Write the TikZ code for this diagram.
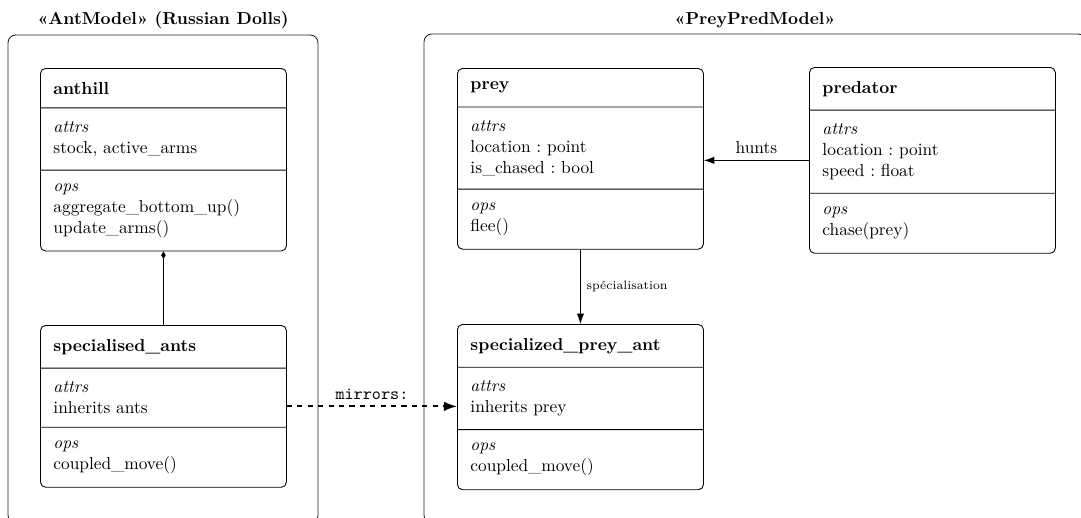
\documentclass[tikz,border=0pt]{standalone}
\usetikzlibrary{shapes.multipart,arrows.meta}
\tikzset{
  container/.style={draw=black!85, rounded corners=4.5pt, line width=0.5pt},
  ctitle/.style={font=\bfseries, anchor=base, inner sep=0pt},
  umlclass/.style={rectangle split, rectangle split parts=3, draw, rounded corners=3pt,
    line width=0.5pt, text width=126.8pt, inner xsep=7.5pt, inner ysep=7.6pt,
    anchor=north west, align=left},
  assoc/.style={-{Latex[length=6pt,width=4.2pt]}, line width=0.55pt},
  compose/.style={-{Diamond[length=4.4pt,width=2.6pt]}, line width=0.55pt},
  mirror/.style={-{Latex[length=7.5pt,width=5.5pt]}, dashed, line width=1.05pt},
}
\begin{document}
\frenchspacing
\begin{tikzpicture}[x=0.5764pt,y=-0.5764pt]
\useasboundingbox (0,0) rectangle (1081,517);

% packages
\draw[container] (8,35) rectangle (318,523);
\draw[container] (424,34) rectangle (1086,523);
\node[ctitle] (anttitle) at (163,24) {«AntModel» (Russian Dolls)};
\node[ctitle] (preytitle) at (755,24) {«PreyPredModel»};

% AntModel classes
\node[umlclass] (anthill) at (40,68) {\textbf{anthill}
  \nodepart{two}\textit{attrs}\\ stock, active\_arms
  \nodepart{three}\textit{ops}\\ aggregate\_bottom\_up()\\ update\_arms()};
\node[umlclass] (spants) at (40,325) {\textbf{specialised\_ants}
  \nodepart{two}\textit{attrs}\\ inherits ants
  \nodepart{three}\textit{ops}\\ coupled\_move()};

% PreyPredModel classes
\node[umlclass] (prey) at (457,68) {\textbf{prey}
  \nodepart{two}\textit{attrs}\\ location : point\\ is\_chased : bool
  \nodepart{three}\textit{ops}\\ flee()};
\node[umlclass] (predator) at (809,67) {\textbf{predator}
  \nodepart{two}\textit{attrs}\\ location : point\\ speed : float
  \nodepart{three}\textit{ops}\\ chase(prey)};
\node[umlclass] (spa) at (457,324) {\textbf{specialized\_prey\_ant}
  \nodepart{two}\textit{attrs}\\ inherits prey
  \nodepart{three}\textit{ops}\\ coupled\_move()};

% relations
\draw[compose] (spants.north) -- (anthill.south);
\draw[assoc] (predator.west) -- (predator.west -| prey.east)
  node[midway, above] (huntslbl) {hunts};
\draw[assoc] (prey.south) -- (spa.north)
  node[midway, right, font=\scriptsize] (speclbl) {spécialisation};
\draw[mirror] (spants.east) -- (spants.east -| spa.west)
  node[midway, above, font=\ttfamily] (mirlbl) {mirrors:};
\end{tikzpicture}
\end{document}
